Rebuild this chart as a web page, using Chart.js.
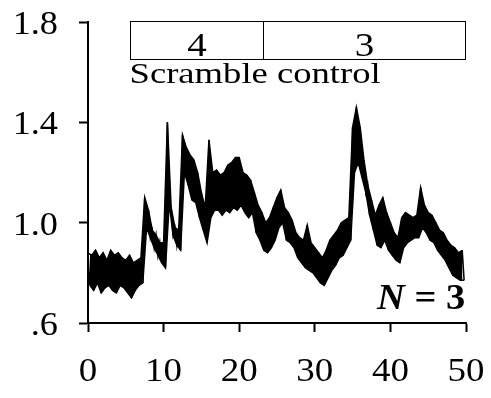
<!DOCTYPE html>
<html>
<head>
<meta charset="utf-8">
<script src="https://cdn.jsdelivr.net/npm/chart.js@4.4.1/dist/chart.umd.min.js"></script>
<style>
  html, body { margin: 0; padding: 0; background: #fff; }
  canvas { display: block; }
</style>
</head>
<body>
<canvas id="chart" width="491" height="398"></canvas>
<script>
// trace: upper / lower edge of the noisy band every 0.5 s
const time = [
  0, 0.5, 1, 1.5, 2, 2.5, 3, 3.5, 4, 4.5,
  5, 5.5, 6, 6.5, 7, 7.5, 8, 8.5, 9, 9.5,
  10, 10.5, 11, 11.5, 12, 12.5, 13, 13.5, 14, 14.5,
  15, 15.5, 16, 16.5, 17, 17.5, 18, 18.5, 19, 19.5,
  20, 20.5, 21, 21.5, 22, 22.5, 23, 23.5, 24, 24.5,
  25, 25.5, 26, 26.5, 27, 27.5, 28, 28.5, 29, 29.5,
  30, 30.5, 31, 31.5, 32, 32.5, 33, 33.5, 34, 34.5,
  35, 35.5, 36, 36.5, 37, 37.5, 38, 38.5, 39, 39.5,
  40, 40.5, 41, 41.5, 42, 42.5, 43, 43.5, 44, 44.5,
  45, 45.5, 46, 46.5, 47, 47.5, 48, 48.5, 49, 49.5
];
const upper = [
  0.88, 0.87, 0.89, 0.86, 0.88, 0.85, 0.89, 0.87, 0.88, 0.86,
  0.85, 0.87, 0.84, 0.85, 0.86, 1.10, 1.05, 0.97, 0.95, 0.92,
  0.92, 1.40, 1.06, 0.98, 0.97, 1.35, 1.30, 1.27, 1.25, 1.20,
  1.12, 1.06, 1.33, 1.20, 1.21, 1.19, 1.20, 1.23, 1.24, 1.26,
  1.26, 1.20, 1.19, 1.17, 1.12, 1.07, 1.04, 1.00, 1.02, 1.06,
  1.10, 1.13, 1.06, 1.04, 1.01, 0.96, 0.94, 0.93, 0.99, 0.92,
  0.90, 0.88, 0.86, 0.89, 0.93, 0.95, 0.97, 1.00, 1.01, 1.02,
  1.38, 1.46, 1.38, 1.25, 1.15, 1.09, 1.03, 1.07, 1.10, 1.04,
  1.00, 0.96, 0.94, 1.02, 1.04, 1.03, 1.02, 1.03, 1.14, 1.07,
  1.04, 1.03, 1.00, 0.97, 0.96, 0.93, 0.91, 0.90, 0.88, 0.89
];
const lower = [
  0.75, 0.73, 0.76, 0.72, 0.74, 0.75, 0.73, 0.72, 0.75, 0.74,
  0.72, 0.70, 0.73, 0.75, 0.76, 0.98, 0.94, 0.90, 0.87, 0.84,
  0.82, 1.08, 0.95, 0.91, 0.89, 1.20, 1.15, 1.09, 1.08, 1.02,
  0.97, 0.92, 1.02, 1.05, 1.05, 1.03, 1.05, 1.04, 1.06, 1.05,
  1.07, 1.04, 1.02, 1.04, 0.96, 0.93, 0.89, 0.88, 0.90, 0.93,
  0.98, 1.00, 0.93, 0.92, 0.90, 0.86, 0.84, 0.82, 0.81, 0.80,
  0.78, 0.76, 0.75, 0.78, 0.81, 0.83, 0.86, 0.87, 0.90, 0.93,
  1.20, 1.24, 1.18, 1.12, 1.03, 0.97, 0.91, 0.90, 0.93, 0.89,
  0.87, 0.85, 0.84, 0.90, 0.92, 0.93, 0.94, 0.94, 0.98, 0.96,
  0.93, 0.92, 0.89, 0.87, 0.85, 0.82, 0.79, 0.78, 0.77, 0.77
];

const xTicks = [0, 10, 20, 30, 40, 50];
const xTickLabels = ['0', '10', '20', '30', '40', '50'];
const yTicks = [0.6, 1.0, 1.4, 1.8];
const yTickLabels = ['.6', '1.0', '1.4', '1.8'];

// condition bar above the trace
const phaseStart = [5.5, 23.1];
const phaseEnd = [23.1, 49.9];
const phaseLabels = ['4', '3'];
const groupLabel = 'Scramble control';

const upperPts = time.map((t, i) => ({ x: t, y: upper[i] }));
const lowerPts = time.map((t, i) => ({ x: t + 0.25, y: lower[i] }));
// zigzag between the two edges gives the noisy look
const zigzag = [];
time.forEach((t, i) => {
  zigzag.push(upperPts[i]);
  zigzag.push(lowerPts[i]);
});

const SERIF = '"Liberation Serif", "Times New Roman", serif';

function wideText(ctx, text, x, y, align, sx) {
  ctx.save();
  ctx.translate(x, y);
  ctx.scale(sx, 1);
  ctx.textAlign = align;
  ctx.textBaseline = 'alphabetic';
  ctx.fillText(text, 0, 0);
  ctx.restore();
}

const overlay = {
  id: 'overlay',
  afterDraw(chart) {
    const ctx = chart.ctx;
    const xs = chart.scales.x;
    const ys = chart.scales.y;
    const area = chart.chartArea;
    ctx.save();
    ctx.fillStyle = '#000';
    ctx.strokeStyle = '#000';

    // tick labels
    ctx.font = '33px ' + SERIF;
    yTicks.forEach((v, i) => {
      wideText(ctx, yTickLabels[i], area.left - 30, ys.getPixelForValue(v) + 12, 'right', 1.1);
    });
    xTicks.forEach((v, i) => {
      wideText(ctx, xTickLabels[i], xs.getPixelForValue(v), area.bottom + 58, 'center', 1.12);
    });

    // phase boxes
    const top = ys.getPixelForValue(1.804);
    const bottom = ys.getPixelForValue(1.652);
    ctx.lineWidth = 1;
    ctx.font = '34px ' + SERIF;
    phaseStart.forEach((s, i) => {
      const l = Math.round(xs.getPixelForValue(s)) + 0.5;
      const r = Math.round(xs.getPixelForValue(phaseEnd[i])) + 0.5;
      ctx.strokeRect(l, Math.round(top) + 0.5, r - l, Math.round(bottom - top));
      wideText(ctx, phaseLabels[i], (l + r) / 2, bottom - 3, 'center', 1.15);
    });

    ctx.font = '30px ' + SERIF;
    wideText(ctx, groupLabel, xs.getPixelForValue(5.5), 83, 'left', 1.22);

    // N = 3
    const right = xs.getPixelForValue(49.9);
    const base = ys.getPixelForValue(0.6) - 14;
    ctx.font = 'bold 35px ' + SERIF;
    const restW = ctx.measureText(' = 3').width * 1.1;
    wideText(ctx, ' = 3', right, base, 'right', 1.1);
    ctx.font = 'italic bold 35px ' + SERIF;
    wideText(ctx, 'N', right - restW, base, 'right', 1.1);

    ctx.restore();
  }
};

new Chart(document.getElementById('chart'), {
  type: 'line',
  data: {
    datasets: [
      { data: upperPts, borderColor: '#000', borderWidth: 1.5, pointRadius: 0, tension: 0, fill: false },
      { data: lowerPts, borderColor: '#000', borderWidth: 1.5, pointRadius: 0, tension: 0, fill: '-1', backgroundColor: '#000' },
      { data: zigzag, borderColor: '#000', borderWidth: 1.5, pointRadius: 0, tension: 0, fill: false }
    ]
  },
  options: {
    responsive: false,
    animation: false,
    devicePixelRatio: 1,
    layout: { padding: { top: 22, right: 25, left: 0, bottom: 0 } },
    plugins: { legend: { display: false }, tooltip: { enabled: false } },
    scales: {
      x: {
        type: 'linear',
        min: 0,
        max: 50,
        afterBuildTicks: s => { s.ticks = xTicks.map(v => ({ value: v })); },
        afterFit: s => { s.height = 75; },
        ticks: { display: false },
        grid: { drawOnChartArea: false, drawTicks: true, tickLength: 9, tickWidth: 2, tickColor: '#000' },
        border: { display: true, color: '#000', width: 2 }
      },
      y: {
        type: 'linear',
        min: 0.6,
        max: 1.8,
        afterBuildTicks: s => { s.ticks = yTicks.map(v => ({ value: v })); },
        afterFit: s => { s.width = 88; },
        ticks: { display: false },
        grid: { drawOnChartArea: false, drawTicks: true, tickLength: 9, tickWidth: 2, tickColor: '#000' },
        border: { display: true, color: '#000', width: 2 }
      }
    }
  },
  plugins: [overlay]
});
</script>
</body>
</html>
